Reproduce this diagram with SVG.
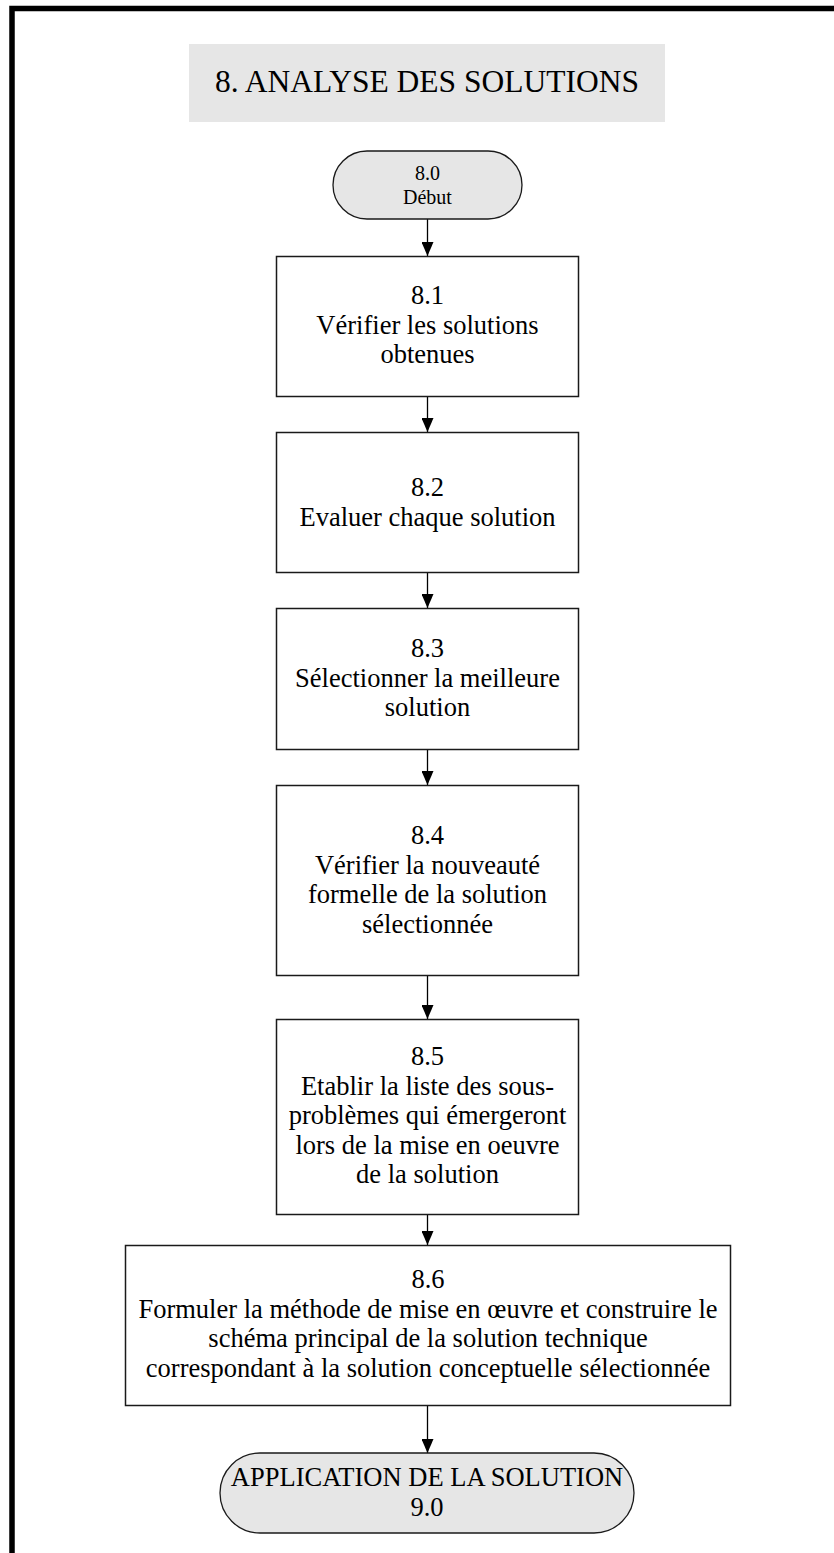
<svg xmlns="http://www.w3.org/2000/svg" width="834" height="1553" viewBox="0 0 834 1553">
  <style>
    text { font-family: "Liberation Serif", "Times New Roman", serif; fill: #000; text-anchor: middle; }
    .step { font-size: 26.5px; }
    .title { font-size: 31.5px; }
    .small { font-size: 20px; }
    .box { fill: #ffffff; stroke: #1a1a1a; stroke-width: 1.5; }
    .term { fill: #e6e6e6; stroke: #1a1a1a; stroke-width: 1.3; }
    .flow { stroke: #000; stroke-width: 1.3; fill: none; marker-end: url(#arrow); }
    .frame { stroke: #000; stroke-width: 5.5; fill: none; }
  </style>
  <defs>
    <!-- filled triangular head, drawn along +x and turned with the line -->
    <marker id="arrow" viewBox="0 0 14 12" refX="14" refY="6" markerWidth="14" markerHeight="12" markerUnits="userSpaceOnUse" orient="auto">
      <path d="M0,0 L14,6 L0,12 Z" fill="#000"/>
    </marker>
  </defs>

  <rect width="834" height="1553" fill="#ffffff"/>

  <!-- page frame: top and left edges only -->
  <path class="frame" d="M834,8.5 H12 V1553"/>

  <!-- heading -->
  <g id="title">
    <rect x="189" y="44" width="476" height="78" fill="#e6e6e6"/>
    <text class="title" x="427" y="92">8. ANALYSE DES SOLUTIONS</text>
  </g>

  <!-- connectors -->
  <g id="connectors">
    <line class="flow" x1="427.5" y1="219" x2="427.5" y2="256"/>
    <line class="flow" x1="427.5" y1="397" x2="427.5" y2="432"/>
    <line class="flow" x1="427.5" y1="573" x2="427.5" y2="608"/>
    <line class="flow" x1="427.5" y1="750" x2="427.5" y2="785"/>
    <line class="flow" x1="427.5" y1="976" x2="427.5" y2="1019"/>
    <line class="flow" x1="427.5" y1="1215" x2="427.5" y2="1245"/>
    <line class="flow" x1="427.5" y1="1406" x2="427.5" y2="1453"/>
  </g>

  <g id="n80">
    <rect class="term" x="333" y="151" width="189" height="68" rx="34" ry="34"/>
    <text class="small" x="427.5" y="180">8.0</text>
    <text class="small" x="427.5" y="204">Début</text>
  </g>

  <g id="n81">
    <rect class="box" x="276.5" y="256.5" width="302" height="140"/>
    <text class="step" x="427.5" y="304">8.1</text>
    <text class="step" x="427.5" y="333.5">Vérifier les solutions</text>
    <text class="step" x="427.5" y="363">obtenues</text>
  </g>

  <g id="n82">
    <rect class="box" x="276.5" y="432.5" width="302" height="140"/>
    <text class="step" x="427.5" y="496">8.2</text>
    <text class="step" x="427.5" y="525.5">Evaluer chaque solution</text>
  </g>

  <g id="n83">
    <rect class="box" x="276.5" y="608.5" width="302" height="141"/>
    <text class="step" x="427.5" y="657">8.3</text>
    <text class="step" x="427.5" y="686.5">Sélectionner la meilleure</text>
    <text class="step" x="427.5" y="716">solution</text>
  </g>

  <g id="n84">
    <rect class="box" x="276.5" y="785.5" width="302" height="190"/>
    <text class="step" x="427.5" y="844">8.4</text>
    <text class="step" x="427.5" y="873.5">Vérifier la nouveauté</text>
    <text class="step" x="427.5" y="903">formelle de la solution</text>
    <text class="step" x="427.5" y="932.5">sélectionnée</text>
  </g>

  <g id="n85">
    <rect class="box" x="276.5" y="1019.5" width="302" height="195"/>
    <text class="step" x="427.5" y="1065">8.5</text>
    <text class="step" x="427.5" y="1094.5">Etablir la liste des sous-</text>
    <text class="step" x="427.5" y="1124">problèmes qui émergeront</text>
    <text class="step" x="427.5" y="1153.5">lors de la mise en oeuvre</text>
    <text class="step" x="427.5" y="1183">de la solution</text>
  </g>

  <g id="n86">
    <rect class="box" x="125.5" y="1245.5" width="605" height="160"/>
    <text class="step" x="428" y="1288">8.6</text>
    <text class="step" x="428" y="1317.5">Formuler la méthode de mise en œuvre et construire le</text>
    <text class="step" x="428" y="1347">schéma principal de la solution technique</text>
    <text class="step" x="428" y="1376.5">correspondant à la solution conceptuelle sélectionnée</text>
  </g>

  <g id="n90">
    <rect class="term" x="220" y="1453" width="414" height="80" rx="40" ry="40"/>
    <text class="step" x="427" y="1486">APPLICATION DE LA SOLUTION</text>
    <text class="step" x="427" y="1516">9.0</text>
  </g>
</svg>
